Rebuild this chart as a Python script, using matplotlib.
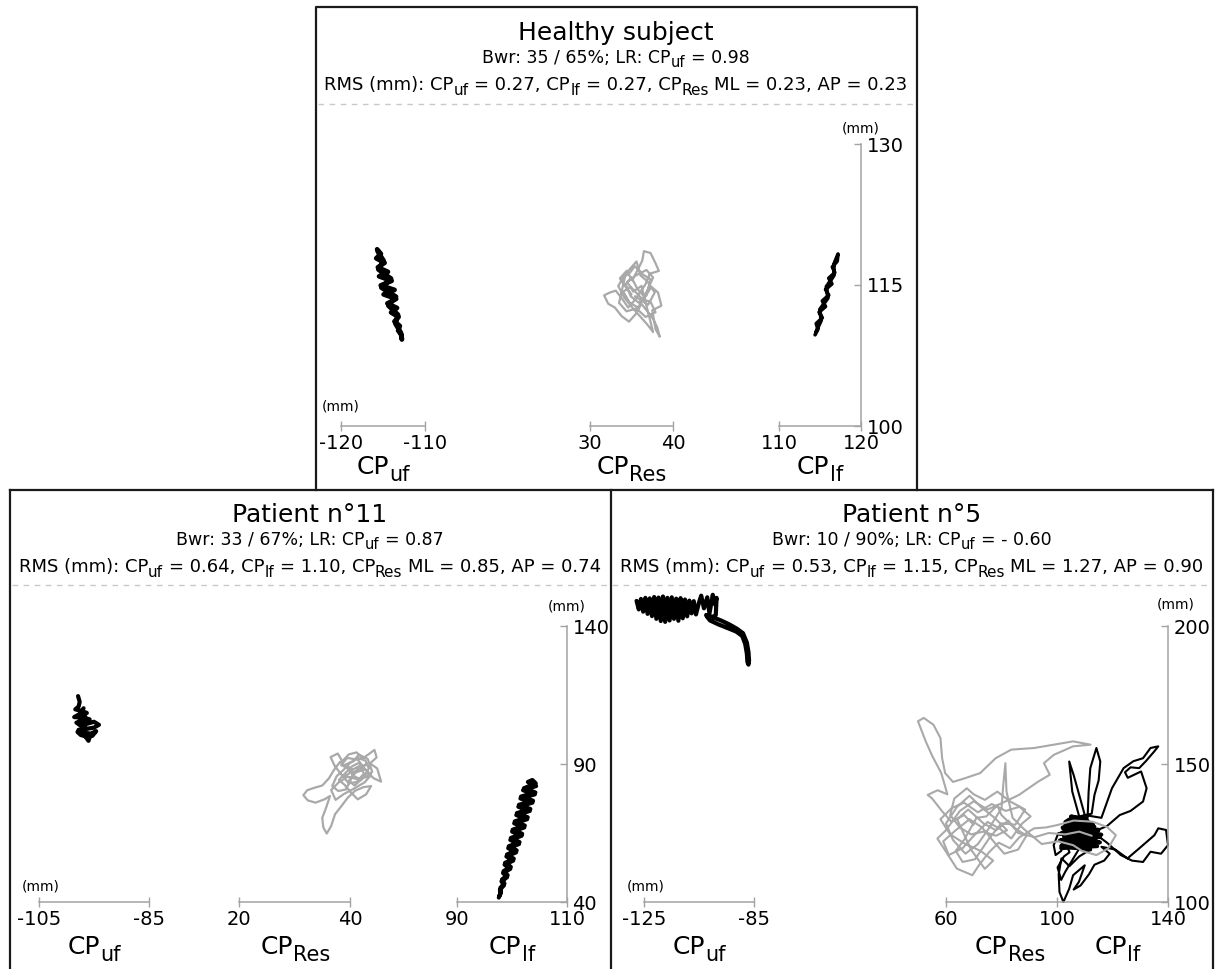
import matplotlib

matplotlib.use("Agg")
import matplotlib.pyplot as plt
import numpy as np

plt.rcParams["font.family"] = ["DejaVu Sans"]
plt.rcParams["axes.unicode_minus"] = False

W, H = 1215, 969
BLACK = "#000000"
GREY = "#a9a9a9"
AXC = "#a3a3a3"

# ---- text -------------------------------------------------------------
titles = ["Healthy subject", "Patient n°11", "Patient n°5"]
bwr_lines = [
    [("Bwr: 35 / 65%; LR: CP", False), ("uf", True), (" = 0.98", False)],
    [("Bwr: 33 / 67%; LR: CP", False), ("uf", True), (" = 0.87", False)],
    [("Bwr: 10 / 90%; LR: CP", False), ("uf", True), (" = - 0.60", False)],
]
rms_values = [
    ("0.27", "0.27", "0.23", "0.23"),
    ("0.64", "1.10", "0.85", "0.74"),
    ("0.53", "1.15", "1.27", "0.90"),
]

# ---- trajectories (mm) ------------------------------------------------
hs_uf = [(-115.70, 118.80), (-115.25, 118.32), (-115.81, 117.84), (-114.81, 117.36),
         (-115.61, 116.88), (-114.41, 116.40), (-115.47, 115.92), (-113.97, 115.44),
         (-115.27, 114.96), (-113.62, 114.48), (-114.93, 114.00), (-113.43, 113.52),
         (-114.48, 113.04), (-113.33, 112.56), (-114.04, 112.08), (-113.14, 111.60),
         (-113.64, 111.12), (-112.99, 110.64), (-113.20, 110.16), (-112.80, 109.68),
         (-112.75, 109.20), (-112.87, 109.92), (-113.52, 110.88), (-113.21, 111.84),
         (-114.36, 112.80), (-113.45, 113.76), (-115.20, 114.72), (-114.04, 115.68),
         (-115.54, 116.64), (-114.93, 117.60), (-115.63, 118.56)]
hs_res = [(35.0, 114.0), (34.2, 114.9), (33.6, 115.7), (34.4, 116.5), (35.1, 115.5),
          (35.8, 116.7), (36.3, 117.6), (36.5, 118.6), (37.3, 118.4), (37.9, 117.3),
          (38.3, 116.5), (37.2, 116.2), (36.7, 115.1), (36.0, 114.2), (35.3, 113.3),
          (34.6, 112.6), (33.9, 113.5), (33.1, 114.4), (32.4, 114.2), (31.7, 113.9),
          (32.2, 113.0), (33.0, 112.6), (33.8, 111.7), (34.7, 111.1), (35.5, 111.9),
          (36.2, 113.0), (36.9, 112.2), (37.6, 111.4), (38.1, 110.5), (38.4, 109.5),
          (37.9, 110.3), (37.5, 112.3), (38.6, 112.8), (38.2, 114.2), (37.4, 114.8),
          (36.6, 113.7), (35.7, 114.6), (35.0, 115.8), (34.3, 115.1), (34.9, 113.8),
          (35.9, 113.1), (36.8, 113.9), (37.3, 115.6), (36.4, 116.1), (35.4, 117.0),
          (34.8, 116.3), (34.0, 115.8), (33.4, 114.9), (34.1, 113.7), (35.1, 112.6),
          (36.0, 111.7), (36.9, 110.8), (37.6, 110.0), (36.2, 114.9), (35.2, 114.3),
          (34.5, 115.3), (35.5, 116.0), (36.8, 116.6), (37.6, 115.8), (36.9, 114.4),
          (35.8, 112.6), (34.8, 113.1), (34.0, 114.3), (34.9, 114.8), (36.3, 113.5),
          (37.3, 113.2), (37.9, 112.1), (36.7, 111.6), (35.6, 112.5), (34.4, 112.2),
          (33.5, 113.1), (34.3, 116.2), (35.6, 117.5), (36.1, 116.0), (36.9, 115.4),
          (37.8, 114.2), (37.0, 112.9), (35.4, 113.8)]
hs_lf = [(114.40, 109.70), (114.75, 110.30), (114.54, 110.90), (115.29, 111.51),
         (114.88, 112.11), (115.68, 112.71), (115.28, 113.31), (116.07, 113.91),
         (115.67, 114.52), (116.46, 115.12), (116.06, 115.72), (116.81, 116.32),
         (116.50, 116.92), (117.10, 117.53), (117.20, 118.30), (116.70, 117.23),
         (116.71, 116.02), (115.77, 114.82), (115.97, 113.61), (114.98, 112.41),
         (115.14, 111.21), (114.50, 110.00)]

p11_uf = [(-97.9, 114.6), (-97.6, 112.5), (-97.8, 110.8), (-98.4, 109.8), (-97.2, 109.2),
          (-96.3, 108.5), (-97.8, 107.9), (-98.6, 107.0), (-97.0, 106.8), (-95.8, 106.2),
          (-96.9, 105.5), (-98.2, 105.0), (-97.5, 104.0), (-96.2, 104.6), (-95.0, 105.3),
          (-94.1, 104.2), (-95.0, 103.2), (-96.4, 102.7), (-97.8, 102.4), (-97.0, 101.4),
          (-95.6, 101.0), (-94.6, 101.9), (-95.3, 100.2), (-96.5, 99.8), (-96.0, 98.4),
          (-95.8, 99.6), (-97.4, 100.5), (-98.0, 101.6), (-96.6, 103.5), (-97.6, 105.8),
          (-96.6, 107.3), (-97.4, 108.6), (-96.9, 110.2)]
p11_res = [(38.5, 86.0), (37.2, 89.5), (36.5, 92.5), (37.8, 93.8), (38.6, 91.0), (39.8, 93.5),
           (41.2, 94.2), (42.3, 92.0), (43.4, 93.6), (44.4, 95.1), (44.8, 92.4), (43.6, 90.2),
           (44.9, 88.4), (45.6, 83.6), (44.3, 84.8), (43.1, 86.9), (42.0, 84.2), (40.6, 85.8),
           (39.5, 88.6), (38.2, 90.8), (37.0, 87.5), (36.2, 84.8), (35.0, 82.2), (33.6, 81.4),
           (32.3, 80.5), (31.6, 78.7), (32.4, 76.8), (33.8, 76.0), (35.4, 77.2), (36.4, 78.4),
           (35.7, 74.2), (35.0, 70.5), (35.2, 67.0), (35.8, 64.8), (36.6, 67.5), (37.3, 71.8),
           (38.4, 74.6), (39.6, 77.8), (40.9, 80.3), (42.4, 81.6), (43.8, 82.0), (42.9, 79.0),
           (41.4, 77.2), (40.2, 79.6), (39.0, 82.5), (38.0, 84.2), (39.2, 86.8), (40.4, 89.2),
           (41.8, 90.6), (42.6, 88.0), (41.0, 86.9), (39.8, 84.0), (40.8, 82.2), (42.2, 84.6),
           (43.4, 88.4), (42.8, 91.2), (41.4, 92.2), (40.0, 90.4), (38.9, 88.0), (37.6, 85.6),
           (36.8, 82.0), (37.9, 80.2), (39.3, 80.8), (40.5, 86.0), (41.5, 88.5), (43.0, 90.0),
           (41.8, 87.8), (40.0, 86.8), (38.8, 85.2), (39.8, 83.0), (41.2, 83.5), (42.5, 86.5),
           (41.5, 91.5), (39.5, 92.2), (38.4, 89.6), (40.3, 87.8), (42.0, 89.6), (43.8, 86.0),
           (42.6, 83.3), (40.8, 81.2), (38.8, 79.0), (37.4, 77.0), (36.6, 80.6), (38.0, 83.4),
           (39.6, 85.4), (41.1, 84.6), (42.9, 85.2), (44.0, 87.2), (43.2, 91.8), (41.6, 93.4),
           (40.6, 91.0), (39.2, 89.8), (40.4, 88.0)]
p11_lf = [(97.60, 41.6), (97.90, 43.0), (97.81, 44.5), (98.53, 46.0), (98.09, 47.5),
          (99.11, 49.0), (98.37, 50.5), (99.69, 52.0), (98.65, 53.5), (100.22, 55.0),
          (98.98, 56.5), (100.75, 58.0), (99.31, 59.5), (101.27, 61.0), (99.69, 62.5),
          (101.75, 64.0), (100.02, 65.5), (102.23, 67.0), (100.40, 68.5), (102.76, 70.0),
          (100.78, 71.5), (103.24, 73.0), (101.15, 74.5), (103.72, 76.0), (101.53, 77.5),
          (104.15, 79.0), (102.01, 80.5), (104.38, 82.0), (102.89, 83.5), (103.70, 84.2),
          (104.32, 83.0), (102.16, 81.2), (104.25, 79.7), (101.63, 78.2), (103.82, 76.7),
          (101.25, 75.2), (103.34, 73.7), (100.88, 72.2), (102.86, 70.7), (100.50, 69.2),
          (102.33, 67.7), (100.12, 66.2), (101.85, 64.7), (99.79, 63.2), (101.37, 61.7),
          (99.41, 60.2), (100.85, 58.7), (99.08, 57.2), (100.32, 55.7), (98.75, 54.2),
          (99.79, 52.7), (98.47, 51.2), (99.21, 49.7), (98.19, 48.2), (98.63, 46.7),
          (97.91, 45.2), (98.00, 43.7), (97.69, 42.2)]

p5_uf = [(-127.7, 209.1), (-126.9, 206.0), (-126.1, 209.8), (-125.3, 205.2), (-124.5, 210.2),
         (-123.7, 204.4), (-122.9, 210.0), (-122.1, 203.6), (-121.3, 210.5), (-120.5, 202.6),
         (-119.7, 210.3), (-118.9, 201.8), (-118.1, 210.7), (-117.3, 201.5), (-116.5, 210.2),
         (-115.7, 202.0), (-114.9, 210.4), (-114.1, 202.6), (-113.3, 209.9), (-112.5, 201.9),
         (-111.7, 210.1), (-110.9, 202.8), (-110.1, 209.6), (-109.3, 203.5), (-108.5, 209.2),
         (-107.7, 204.6), (-106.9, 209.0), (-106.1, 204.2), (-105.0, 208.5), (-104.2, 211.0),
         (-103.2, 206.4), (-102.0, 210.4), (-101.2, 204.5), (-100.0, 211.3), (-99.2, 207.8),
         (-98.6, 210.2), (-98.9, 204.0), (-100.6, 202.9), (-102.2, 203.5), (-101.0, 202.0),
         (-98.0, 200.6), (-94.5, 199.2), (-91.5, 198.0), (-89.3, 196.4), (-88.2, 193.5),
         (-87.6, 190.0), (-87.4, 187.0), (-87.0, 186.0), (-86.8, 187.5), (-87.0, 190.5),
         (-87.6, 194.0), (-89.0, 197.4), (-91.2, 199.0), (-94.0, 200.6), (-97.0, 202.0),
         (-100.0, 203.2), (-102.4, 204.0)]
p5_res = [(70.0, 128.0), (66.5, 131.5), (62.0, 129.0), (58.5, 133.0), (55.0, 137.5),
          (53.4, 138.8), (57.0, 140.5), (60.5, 139.0), (58.3, 146.7), (55.0, 153.0),
          (52.7, 158.2), (49.9, 165.5), (52.0, 166.7), (55.5, 164.2), (58.0, 159.4),
          (58.6, 152.1), (59.7, 146.7), (62.5, 143.5), (66.7, 144.8), (72.3, 146.7),
          (77.9, 152.1), (83.5, 155.2), (91.8, 155.8), (98.8, 157.0), (105.8, 158.2),
          (112.1, 157.0), (105.8, 156.4), (98.8, 153.3), (95.3, 150.3), (97.4, 146.1),
          (93.2, 143.6), (86.3, 138.8), (80.5, 136.0), (75.0, 133.5), (70.0, 136.5),
          (65.0, 133.0), (60.0, 126.0), (56.9, 123.0), (59.5, 119.0), (63.9, 112.1),
          (69.5, 109.7), (72.0, 113.5), (75.5, 118.0), (79.0, 121.5), (83.0, 119.5),
          (86.5, 123.5), (91.8, 126.7), (96.0, 127.0), (100.2, 127.9), (106.0, 129.5),
          (112.8, 129.1), (118.0, 127.2), (121.2, 124.2), (118.4, 119.4), (114.2, 117.0),
          (109.0, 118.5), (105.8, 120.6), (100.5, 122.0), (94.5, 121.0), (88.0, 126.5),
          (84.0, 130.5), (81.8, 140.0), (81.4, 150.3), (80.6, 142.0), (80.0, 133.9),
          (76.0, 127.5), (71.5, 121.0), (67.0, 117.5), (62.5, 122.5), (60.0, 128.5),
          (64.0, 134.5), (68.5, 138.5), (72.5, 134.5), (77.5, 130.5), (82.0, 126.0),
          (78.0, 124.0), (73.5, 125.5), (69.0, 124.5), (65.0, 127.0), (61.5, 131.5),
          (63.0, 137.5), (67.5, 141.2), (70.0, 139.0), (74.0, 137.0), (78.5, 140.0),
          (83.0, 136.5), (88.5, 133.5), (85.0, 128.0), (80.0, 128.5), (75.5, 123.0),
          (70.5, 115.5), (66.0, 114.5), (63.5, 118.5), (66.5, 122.5), (71.0, 130.5),
          (74.5, 131.0), (78.5, 135.0), (80.0, 131.5), (84.5, 127.0), (89.0, 124.0),
          (86.0, 119.0), (81.0, 117.5), (77.5, 121.5), (73.0, 127.0), (68.5, 130.0),
          (63.5, 126.0), (59.0, 122.0), (61.0, 117.0), (66.0, 119.5), (70.0, 124.0),
          (75.0, 129.0), (79.5, 126.5), (83.5, 123.0), (87.5, 128.5), (90.5, 131.0),
          (86.5, 134.5), (81.5, 133.0), (76.5, 135.5), (71.5, 132.5), (66.5, 136.0),
          (62.0, 134.0), (58.0, 130.0), (61.5, 124.5), (67.0, 121.0), (72.5, 118.5),
          (77.0, 115.0), (74.0, 112.0), (69.0, 119.0), (64.0, 130.0), (68.0, 133.5),
          (73.5, 128.5), (78.0, 126.0), (82.5, 129.5), (86.0, 125.0), (92.0, 123.5),
          (97.0, 125.0), (103.0, 124.5), (108.0, 125.5), (112.5, 124.0)]
p5_lf_core = [(101.5, 119.5), (114.5, 120.2), (102.0, 121.0), (115.5, 121.6), (101.0, 122.3),
              (114.0, 123.0), (102.5, 123.8), (116.0, 124.4), (101.8, 125.1), (114.8, 125.8),
              (102.2, 126.6), (113.5, 127.3), (103.0, 128.0), (112.0, 128.7), (104.0, 129.5),
              (110.5, 130.3), (105.0, 131.0), (106.0, 130.8), (103.0, 129.0), (113.0, 128.2),
              (102.0, 127.0), (115.0, 126.2), (101.0, 124.7), (115.5, 123.5), (102.0, 122.6),
              (114.0, 121.0), (101.5, 120.3), (112.0, 119.0)]
p5_lf_loops = [(112.0, 119.0), (108.0, 116.5), (104.5, 113.0), (101.6, 115.8), (100.6, 110.0),
               (100.9, 103.6), (102.3, 100.0), (104.4, 104.8), (105.8, 109.7), (110.0, 113.3),
               (107.9, 107.3), (106.0, 104.5), (108.5, 106.0), (111.5, 110.0), (113.5, 113.5),
               (117.0, 115.0), (119.0, 117.5), (116.0, 120.0), (121.0, 119.0), (125.4, 115.8),
               (129.6, 119.4), (135.1, 124.2), (136.5, 126.7), (139.3, 126.1), (140.0, 120.6),
               (137.5, 117.5), (133.7, 118.2), (131.0, 114.5), (127.0, 115.0), (123.0, 117.0),
               (118.0, 121.5), (114.0, 124.5), (111.0, 130.0), (111.4, 140.0), (112.0, 148.5),
               (114.2, 155.8), (115.6, 150.9), (115.0, 144.0), (113.5, 138.8), (112.5, 132.0),
               (108.0, 131.0), (105.5, 140.0), (104.4, 150.9), (106.0, 146.0), (108.5, 137.0),
               (110.0, 131.5), (116.0, 130.5), (119.8, 141.2), (124.0, 148.5), (127.5, 151.0),
               (131.0, 152.1), (133.7, 155.8), (136.5, 156.4), (135.0, 154.5), (132.0, 151.0),
               (129.6, 148.5), (126.5, 148.8), (124.5, 147.0), (125.5, 145.0), (130.3, 147.3),
               (132.3, 141.2), (131.0, 136.4), (126.5, 133.0), (122.6, 131.5), (118.0, 127.5),
               (112.0, 125.0), (100.5, 125.0), (98.8, 120.6), (99.5, 117.0), (101.5, 118.5),
               (103.0, 122.0), (104.5, 118.0), (102.5, 116.5), (100.2, 112.5), (101.5, 108.0),
               (103.0, 111.0), (106.0, 116.0), (109.0, 121.0)]

# ---- figure -----------------------------------------------------------
fig = plt.figure(figsize=(W / 100, H / 100), dpi=100)
bg = fig.add_axes([0, 0, 1, 1])
bg.set_xlim(0, W)
bg.set_ylim(H, 0)
bg.axis("off")
renderer = fig.canvas.get_renderer()


def text_width(s, size):
    t = bg.text(0, 0, "|" + s + "|", fontsize=size)
    w = t.get_window_extent(renderer).width
    t.set_text("||")
    w -= t.get_window_extent(renderer).width
    t.remove()
    return w


def rich_text(xc, y, parts, size, sub_size, drop):
    widths = [text_width(s, sub_size if sub else size) for s, sub in parts]
    x = xc - sum(widths) / 2
    for (s, sub), w in zip(parts, widths):
        fs = sub_size if sub else size
        lead = len(s) - len(s.lstrip(" "))
        x0 = x + (text_width(" " * lead, fs) if lead else 0)
        bg.text(x0, y + (drop if sub else 0), s.lstrip(" "), fontsize=fs,
                ha="left", va="baseline")
        x += w


def rms_parts(v):
    return [("RMS (mm): CP", False), ("uf", True), (f" = {v[0]}, CP", False), ("lf", True),
            (f" = {v[1]}, CP", False), ("Res", True), (f" ML = {v[2]}, AP = {v[3]}", False)]


def scale_axes(x0, x1, ytop, ybot, xlim, ylim, xticks, yticks=None):
    ax = fig.add_axes([x0 / W, 1 - ybot / H, (x1 - x0) / W, (ybot - ytop) / H])
    ax.set_xlim(*xlim)
    ax.set_ylim(*ylim)
    ax.patch.set_visible(False)
    for side in ("top", "left", "right"):
        ax.spines[side].set_visible(False)
    ax.spines["bottom"].set_color(AXC)
    ax.spines["bottom"].set_linewidth(1.1)
    ax.set_xticks(xticks)
    ax.set_xticklabels([f"{t:g}" for t in xticks])
    ax.tick_params(axis="x", direction="inout", length=7, width=1, color=AXC,
                   labelsize=14, pad=2)
    if yticks is None:
        ax.set_yticks([])
    else:
        ax.spines["right"].set_visible(True)
        ax.spines["right"].set_color(AXC)
        ax.spines["right"].set_linewidth(1.1)
        ax.yaxis.tick_right()
        ax.set_yticks(yticks)
        ax.set_yticklabels([f"{t:g}" for t in yticks])
        ax.tick_params(axis="y", direction="in", length=5, width=1, color=AXC,
                       labelsize=14, pad=4)
    return ax


def trace(ax, pts, color, lw):
    xy = np.array(pts)
    ax.plot(xy[:, 0], xy[:, 1], color=color, lw=lw, clip_on=False,
            solid_joinstyle="round", solid_capstyle="round")


def cp_label(xc, y, sub, size=18, sub_size=15, drop=7):
    rich_text(xc, y, [("CP", False), (sub, True)], size, sub_size, drop)


# panel frames
frame = dict(color="#1a1a1a", lw=1.6, solid_capstyle="projecting")
bg.plot([316, 316, 917, 917], [490, 7, 7, 490], **frame)
bg.plot([10, 1213], [490, 490], **frame)
for xb in (10, 611, 1213):
    bg.plot([xb, xb], [490, 975], **frame)

# headers
centers = [616, 310, 912]
tops = [0, 482, 482]
for i, (xc, dy) in enumerate(zip(centers, tops)):
    bg.text(xc, 40 + dy, titles[i], fontsize=18, ha="center", va="baseline")
    rich_text(xc, 63 + dy, bwr_lines[i], 12.5, 10.5, 4)
    rich_text(xc, 90 + dy, rms_parts(rms_values[i]), 13, 11, 5)
bg.plot([318, 915], [104, 104], color="#c8c8c8", lw=1, dashes=(4, 4))
bg.plot([12, 1211], [585, 585], color="#c8c8c8", lw=1, dashes=(4, 4))

# healthy subject
ax = scale_axes(341, 425, 144, 426, (-120, -110), (100, 130), [-120, -110])
trace(ax, hs_uf, BLACK, 3.4)
ax = scale_axes(590, 673, 144, 426, (30, 40), (100, 130), [30, 40])
trace(ax, hs_res, GREY, 1.6)
ax = scale_axes(779, 861, 144, 426, (110, 120), (100, 130), [110, 120], [100, 115, 130])
trace(ax, hs_lf, BLACK, 2.6)
bg.text(861, 128, "(mm)", fontsize=10, ha="center", va="center")
bg.text(322, 407, "(mm)", fontsize=10, ha="left", va="center")
cp_label(383, 474, "uf")
cp_label(631, 474, "Res")
cp_label(820, 474, "lf")

# patient 11
ax = scale_axes(39, 149, 626, 902, (-105, -85), (40, 140), [-105, -85])
trace(ax, p11_uf, BLACK, 3.0)
ax = scale_axes(239, 350, 626, 902, (20, 40), (40, 140), [20, 40])
trace(ax, p11_res, GREY, 1.6)
ax = scale_axes(457, 567, 626, 902, (90, 110), (40, 140), [90, 110], [40, 90, 140])
trace(ax, p11_lf, BLACK, 3.0)
bg.text(567, 606, "(mm)", fontsize=10, ha="center", va="center")
bg.text(22, 886, "(mm)", fontsize=10, ha="left", va="center")
cp_label(94, 954, "uf")
cp_label(295, 954, "Res")
cp_label(512, 954, "lf")

# patient 5
ax = scale_axes(644, 754, 626, 902, (-125, -85), (100, 200), [-125, -85])
trace(ax, p5_uf, BLACK, 3.0)
ax = scale_axes(946, 1168, 626, 902, (60, 140), (100, 200), [60, 100, 140], [100, 150, 200])
trace(ax, p5_lf_core, BLACK, 2.8)
trace(ax, p5_lf_loops, BLACK, 1.5)
trace(ax, p5_res, GREY, 1.5)
bg.text(1176, 604, "(mm)", fontsize=10, ha="center", va="center")
bg.text(627, 886, "(mm)", fontsize=10, ha="left", va="center")
cp_label(699, 954, "uf")
cp_label(1010, 954, "Res")
cp_label(1117, 954, "lf")

fig.savefig("out.png", dpi=100)
